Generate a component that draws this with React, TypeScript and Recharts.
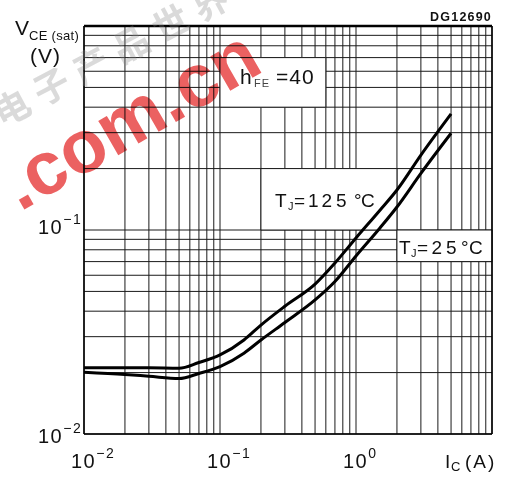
import React from 'react';
import { LineChart, Line, XAxis, YAxis, CartesianGrid, ReferenceArea, ReferenceLine } from 'recharts';

// Collector current I_C (A)
const currentA = [0.01, 0.02, 0.03, 0.05, 0.07, 0.1, 0.15, 0.2, 0.3, 0.5, 0.7, 1, 1.5, 2, 3, 5];
// V_CE(sat) (V) at TJ = 125 °C
const vce125 = [0.0211, 0.0211, 0.0211, 0.021, 0.0224, 0.0244, 0.0289, 0.0342, 0.0423, 0.0543, 0.0689, 0.0914, 0.125, 0.157, 0.233, 0.371];
// V_CE(sat) (V) at TJ = 25 °C
const vce25 = [0.0201, 0.0196, 0.0192, 0.0187, 0.0198, 0.0214, 0.0249, 0.0289, 0.0352, 0.0454, 0.0559, 0.0746, 0.1023, 0.1296, 0.1895, 0.298];

const xTicks = [
  0.01, 0.02, 0.03, 0.04, 0.05, 0.06, 0.07, 0.08, 0.09,
  0.1, 0.2, 0.3, 0.4, 0.5, 0.6, 0.7, 0.8, 0.9,
  1, 2, 3, 4, 5, 6, 7, 8, 9, 10,
];
const yTicks = [
  0.01, 0.02, 0.03, 0.04, 0.05, 0.06, 0.07, 0.08, 0.09,
  0.1, 0.2, 0.3, 0.4, 0.5, 0.6, 0.7, 0.8, 0.9, 1,
];
const xTickExponents: Record<string, string> = { '0.01': '−2', '0.1': '−1', '1': '0' };
const yTickExponents: Record<string, string> = { '0.01': '−2', '0.1': '−1' };

const hotData = currentA.map((i, k) => ({ i, v: vce125[k] }));
const coldData = currentA.map((i, k) => ({ i, v: vce25[k] }));

const FONT = '"Liberation Sans", Arial, sans-serif';
const INK = '#111';

const XTick = (props: any) => {
  const { x, y, payload } = props;
  const exp = xTickExponents[String(payload.value)];
  if (exp === undefined) return <g />;
  return (
    <text x={x - 13} y={y + 26} fontSize={20} fontFamily={FONT} fill={INK} letterSpacing={1.5}>
      10
      <tspan dy={-10} fontSize={14}>{exp}</tspan>
    </text>
  );
};

const YTick = (props: any) => {
  const { x, y, payload } = props;
  const exp = yTickExponents[String(payload.value)];
  if (exp === undefined) return <g />;
  const base = payload.value === 0.01 ? y + 9 : y + 4;
  return (
    <text x={x - 38} y={base} fontSize={20} fontFamily={FONT} fill={INK} letterSpacing={1.5}>
      10
      <tspan dy={-10} fontSize={14}>{exp}</tspan>
    </text>
  );
};

export default function App() {
  return (
    <div style={{ position: 'relative', width: 507, height: 477, background: '#fff' }}>
      <style>{'body{margin:0}'}</style>
      <LineChart width={507} height={477} margin={{ top: 26, right: 15, bottom: 0, left: 0 }}>
        <CartesianGrid stroke="#1a1a1a" strokeWidth={1} horizontal vertical />
        <XAxis
          dataKey="i"
          type="number"
          scale="log"
          domain={[0.01, 10]}
          allowDataOverflow
          ticks={xTicks}
          interval={0}
          height={43}
          tickLine={false}
          axisLine={{ stroke: '#000', strokeWidth: 1.5 }}
          tick={<XTick />}
        />
        <YAxis
          dataKey="v"
          type="number"
          scale="log"
          domain={[0.01, 1]}
          allowDataOverflow
          ticks={yTicks}
          interval={0}
          width={84}
          tickLine={false}
          axisLine={{ stroke: '#000', strokeWidth: 1.5 }}
          tick={<YTick />}
        />
        <ReferenceArea x1={0.1} x2={0.6} y1={0.4} y2={0.7} fill="#fff" fillOpacity={1} stroke="#1a1a1a" strokeWidth={1} />
        <ReferenceArea x1={0.2} x2={2} y1={0.1} y2={0.2} fill="#fff" fillOpacity={1} stroke="#1a1a1a" strokeWidth={1} />
        <ReferenceArea x1={2} x2={10} y1={0.07} y2={0.1} fill="#fff" fillOpacity={1} stroke="#1a1a1a" strokeWidth={1} />
        <ReferenceLine y={1} stroke="#000" strokeWidth={2.5} />
        <ReferenceLine x={10} stroke="#000" strokeWidth={1.5} />
        <Line data={hotData} dataKey="v" type="monotone" stroke="#000" strokeWidth={3} dot={false} isAnimationActive={false} />
        <Line data={coldData} dataKey="v" type="monotone" stroke="#000" strokeWidth={3} dot={false} isAnimationActive={false} />
      </LineChart>
      <svg
        width={507}
        height={477}
        style={{ position: 'absolute', left: 0, top: 0, pointerEvents: 'none' }}
        fontFamily={FONT}
      >
        {/* website watermark */}
        <text
          x={2}
          y={128}
          transform="rotate(-28 2 128)"
          fontSize={36}
          fontFamily='"Noto Sans CJK SC", sans-serif'
          fontWeight="bold"
          fill="#888"
          opacity={0.3}
          letterSpacing={9}
        >
          电子产品世界
        </text>
        <text
          x={20}
          y={212}
          transform="rotate(-30 20 212)"
          fontSize={75}
          fontWeight="bold"
          fill="#e84545"
          style={{ mixBlendMode: 'multiply' }}
          opacity={0.85}
        >
          .com.cn
        </text>

        {/* axis titles */}
        <text x={15} y={35} fontSize={21} fill={INK}>
          V
          <tspan dy={4.5} fontSize={13} letterSpacing={0.3}>CE (sat)</tspan>
        </text>
        <text x={30} y={63} fontSize={21} fill={INK} letterSpacing={1}>(V)</text>
        <text y={468} fontSize={19} fill={INK} letterSpacing={2}>
          <tspan x={445}>I</tspan>
          <tspan x={451} y={471} fontSize={13}>C</tspan>
          <tspan x={465} y={468}>(A)</tspan>
        </text>
        <text x={492} y={21} fontSize={12.5} fontWeight="bold" fill={INK} textAnchor="end" letterSpacing={1.2}>DG12690</text>

        {/* annotations */}
        <text y={84} fontSize={21} fill={INK}>
          <tspan x={240}>h</tspan>
          <tspan x={254} y={87} fontSize={11} fill="#444" letterSpacing={1}>FE</tspan>
          <tspan x={276} y={84} letterSpacing={1}>=40</tspan>
        </text>
        <text y={207} fontSize={19} fill={INK}>
          <tspan x={275}>T</tspan>
          <tspan x={288} y={210} fontSize={11}>J</tspan>
          <tspan x={294} y={207}>=</tspan>
          <tspan x={308}>1</tspan>
          <tspan x={321.5}>2</tspan>
          <tspan x={336}>5</tspan>
          <tspan x={354}>°</tspan>
          <tspan x={361}>C</tspan>
        </text>
        <text y={253.5} fontSize={19} fill={INK}>
          <tspan x={399}>T</tspan>
          <tspan x={411} y={256.5} fontSize={11}>J</tspan>
          <tspan x={417} y={253.5}>=</tspan>
          <tspan x={431.5}>2</tspan>
          <tspan x={446}>5</tspan>
          <tspan x={461}>°</tspan>
          <tspan x={469}>C</tspan>
        </text>
      </svg>
    </div>
  );
}
